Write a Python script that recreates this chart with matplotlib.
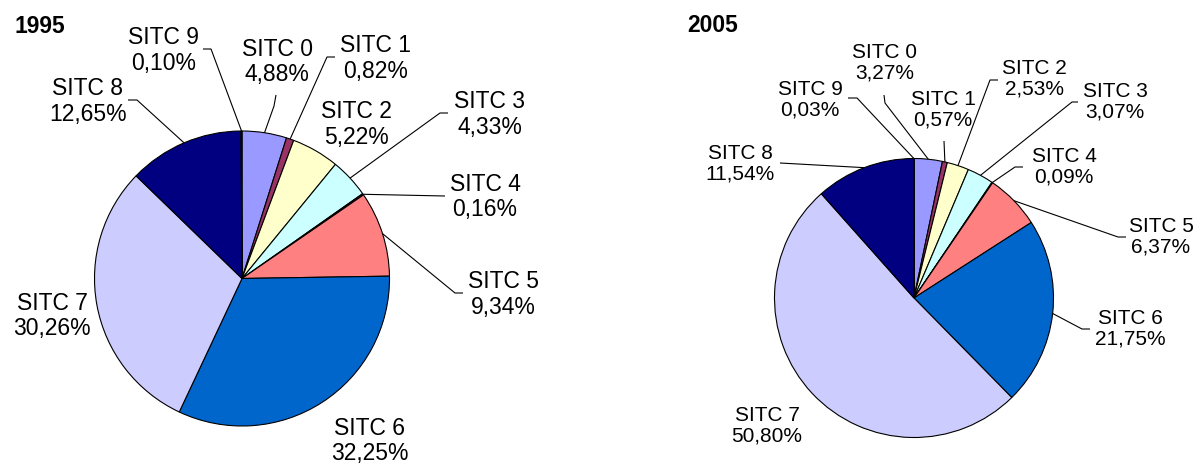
import numpy as np
import matplotlib
matplotlib.use("Agg")
import matplotlib.pyplot as plt

plt.rcParams['font.family'] = ['Liberation Sans', 'DejaVu Sans']

# ---- data ----
categories = ['SITC 0', 'SITC 1', 'SITC 2', 'SITC 3', 'SITC 4',
              'SITC 5', 'SITC 6', 'SITC 7', 'SITC 8', 'SITC 9']
values_1995 = [4.88, 0.82, 5.22, 4.33, 0.16, 9.34, 32.25, 30.26, 12.65, 0.10]
values_2005 = [3.27, 0.57, 2.53, 3.07, 0.09, 6.37, 21.75, 50.80, 11.54, 0.03]
years = ['1995', '2005']

colors = ['#9999FF', '#993366', '#FFFFCC', '#CCFFFF', '#660066',
          '#FF8080', '#0066CC', '#CCCCFF', '#000080', '#FF00FF']

# ---- layout (pixel coordinates, y from top) ----
W, H = 1200, 463
pie_centers = [(242, 278.5), (914, 298)]
pie_radii = [147.5, 139.5]
title_pos = [(15, 33), (687, 32)]
label_sizes = [16.5, 15.0]

label_pos_1995 = [(277, 62), (376, 58.5), (356, 124.5), (489.5, 114.5), (485, 197),
                  (503.5, 294.5), (370, 441), (52, 316), (88, 101.5), (164, 50.5)]
leader_1995 = [[(274, 106), (276, 95)], [(327, 57), (335, 57)], None,
               [(440, 113), (448, 113)], [(445, 196)], [(455, 293), (463, 293)],
               None, None, [(137, 100), (128, 100)], [(211, 49), (203, 49)]]

label_pos_2005 = [(884.5, 63), (943, 110), (1034, 79), (1115, 102), (1064, 167),
                  (1161, 236.5), (1130, 329), (767, 426), (740, 164), (810, 100)]
leader_2005 = [[(885, 103), (884, 95)], [(944, 141)], [(990, 80), (998, 80)],
               [(1072, 102), (1078, 102)], [(1015, 167), (1023, 167)],
               [(1118, 237), (1126, 237)], [(1082, 329), (1090, 329)],
               None, [(780, 163)], [(857, 98), (848, 98)]]

label_pos = [label_pos_1995, label_pos_2005]
leaders = [leader_1995, leader_2005]
all_values = [values_1995, values_2005]


def P(x, y):
    return x, H - y


fig = plt.figure(figsize=(W / 100, H / 100), dpi=100)
ax = fig.add_axes([0, 0, 1, 1])
ax.set_xlim(0, W)
ax.set_ylim(0, H)
ax.set_aspect('equal')
ax.axis('off')

for k in range(2):
    vals = all_values[k]
    cx, cy = pie_centers[k]
    r = pie_radii[k]
    ax.pie(vals, colors=colors, startangle=90, counterclock=False,
           center=P(cx, cy), radius=r, frame=True,
           wedgeprops=dict(edgecolor='black', linewidth=0.8))
    total = sum(vals)
    cum = np.cumsum([0] + list(vals[:-1]))
    for i, v in enumerate(vals):
        mid = (cum[i] + v / 2) / total * 2 * np.pi
        ex = cx + r * np.sin(mid)
        ey = cy - r * np.cos(mid)
        path = leaders[k][i]
        if path:
            pts = [(ex, ey)] + path
            xs = [p[0] for p in pts]
            ys = [H - p[1] for p in pts]
            ax.plot(xs, ys, color='black', lw=0.8, solid_capstyle='butt')
        tx, ty = label_pos[k][i]
        txt = f"{categories[i]}\n{v:.2f}%".replace('.', ',')
        ax.text(*P(tx, ty), txt, ha='center', va='center',
                fontsize=label_sizes[k], linespacing=1.12, color='black')
    ax.text(*P(*title_pos[k]), years[k], ha='left', va='baseline',
            fontsize=16.5, fontweight='bold')

ax.set_xlim(0, W)
ax.set_ylim(0, H)
ax.axis('off')
fig.savefig('out.png', dpi=100)
